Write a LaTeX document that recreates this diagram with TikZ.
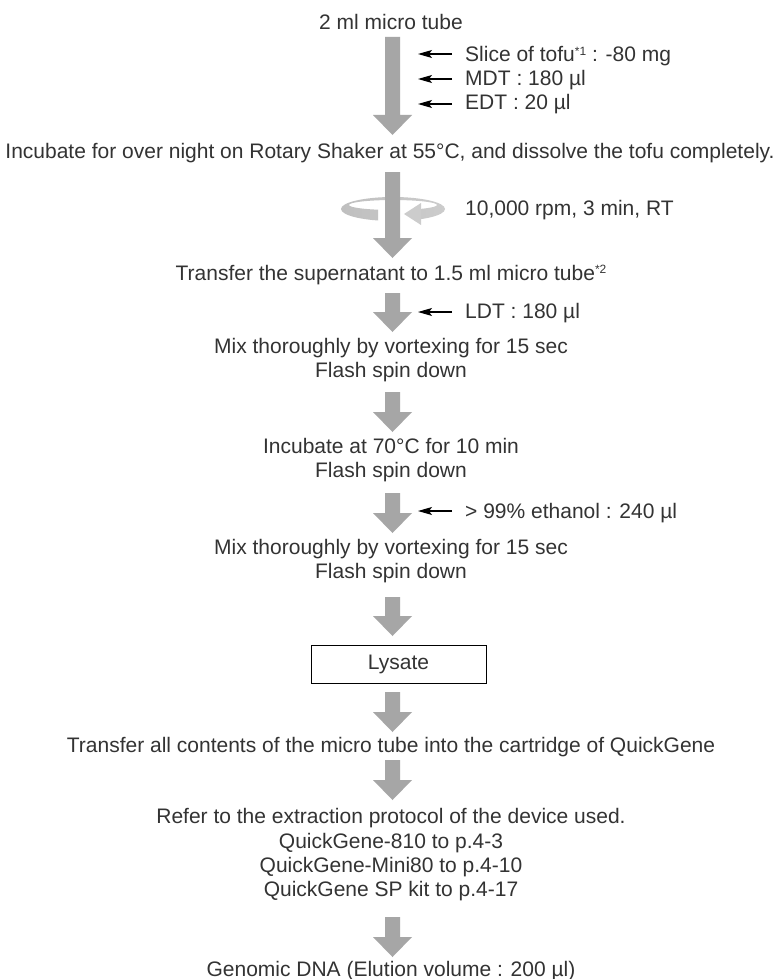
\documentclass[tikz,border=0pt]{standalone}
\usepackage{fontspec}
\setmainfont{Liberation Sans}
\usetikzlibrary{arrows.meta}
\definecolor{arrowgray}{HTML}{A6A6A6}
\definecolor{txt}{HTML}{333333}
\definecolor{ringA}{HTML}{BFBFBF}
\definecolor{ringB}{HTML}{E6E6E6}
\definecolor{ringC}{HTML}{CCCCCC}
\newcommand\grayarrow[2]{%
  \fill[arrowgray] (385,#1) -- (400,#1) -- (400,{#2-20}) -- (412,{#2-20}) -- (392.5,#2)
    -- (373,{#2-20}) -- (385,{#2-20}) -- cycle;}
\newcommand\supmark[1]{\raisebox{6.5pt}{\fontsize{12}{12}\selectfont #1}}
\begin{document}
\begin{tikzpicture}[x=1pt,y=-1pt,
  lbl/.style={font=\fontsize{21}{24}\selectfont, text=txt, inner sep=0pt, anchor=base},
  side/.style={lbl, anchor=base west},
  sidearrow/.style={draw=black, line width=1.1pt, -{Stealth[length=14pt,width=8pt,inset=3pt]}}]
\useasboundingbox (0,0) rectangle (776,979);
\fill[white] (0,0) rectangle (776,979);

% texts
\node[lbl] (t0) at (391,30) {2 ml micro tube};
\node[side] (s1) at (465,62) {Slice of tofu\supmark{*1} : -80 mg};
\node[side] (s2) at (465,86) {MDT : 180 µl};
\node[side] (s3) at (465,110) {EDT : 20 µl};
\node[lbl] (t1) at (390,158) {Incubate for over night on Rotary Shaker at 55°C, and dissolve the tofu completely.};
\node[side] (s4) at (465,215) {10,000 rpm, 3 min, RT};
\node[lbl] (t2) at (391,280) {Transfer the supernatant to 1.5 ml micro tube\supmark{*2}};
\node[side] (s5) at (465,318) {LDT : 180 µl};
\node[lbl] (t3a) at (391,353) {Mix thoroughly by vortexing for 15 sec};
\node[lbl] (t3b) at (391,377) {Flash spin down};
\node[lbl] (t4a) at (391,453) {Incubate at 70°C for 10 min};
\node[lbl] (t4b) at (391,477) {Flash spin down};
\node[side] (s6) at (465,518) {> 99\% ethanol : 240 µl};
\node[lbl] (t5a) at (391,554) {Mix thoroughly by vortexing for 15 sec};
\node[lbl] (t5b) at (391,578) {Flash spin down};
\node[draw=black, line width=0.9pt, minimum width=175pt, minimum height=38pt, inner sep=0pt,
  font=\fontsize{21}{24}\selectfont, text=txt] (lys) at (398.5,664) {Lysate};
\node[lbl] (t6) at (391,752) {Transfer all contents of the micro tube into the cartridge of QuickGene};
\node[lbl] (t7a) at (391,823) {Refer to the extraction protocol of the device used.};
\node[lbl] (t7b) at (391,848) {QuickGene-810 to p.4-3};
\node[lbl] (t7c) at (391,872) {QuickGene-Mini80 to p.4-10};
\node[lbl] (t7d) at (391,896) {QuickGene SP kit to p.4-17};
\node[lbl] (t8) at (391,976) {Genomic DNA (Elution volume : 200 µl)};

% side arrows
\foreach \n/\yy in {a/54,b/79,c/104,d/312,e/511}{
  \coordinate (from\n) at (452,\yy);
  \coordinate (to\n) at (418,\yy);
  \draw[sidearrow] (from\n) -- (to\n);
}

% rotation ring
\begin{scope}
  \clip (300,180) rectangle (378,235) (420,180) rectangle (470,235) (378,180) rectangle (420,207);
  \shade[even odd rule, left color=ringA, middle color=ringB, right color=ringC]
    (393,209) ellipse [x radius=52, y radius=12]
    (393,205) ellipse [x radius=44, y radius=5];
\end{scope}
\fill[ringC] (421,203) -- (404,214) -- (421,225) -- cycle;

% big gray arrows
\grayarrow{37}{135}
\grayarrow{172}{258}
\grayarrow{293}{332}
\grayarrow{392}{432}
\grayarrow{493}{533}
\grayarrow{597}{636}
\grayarrow{692}{732}
\grayarrow{760}{800}
\grayarrow{917}{957}
\end{tikzpicture}
\end{document}
